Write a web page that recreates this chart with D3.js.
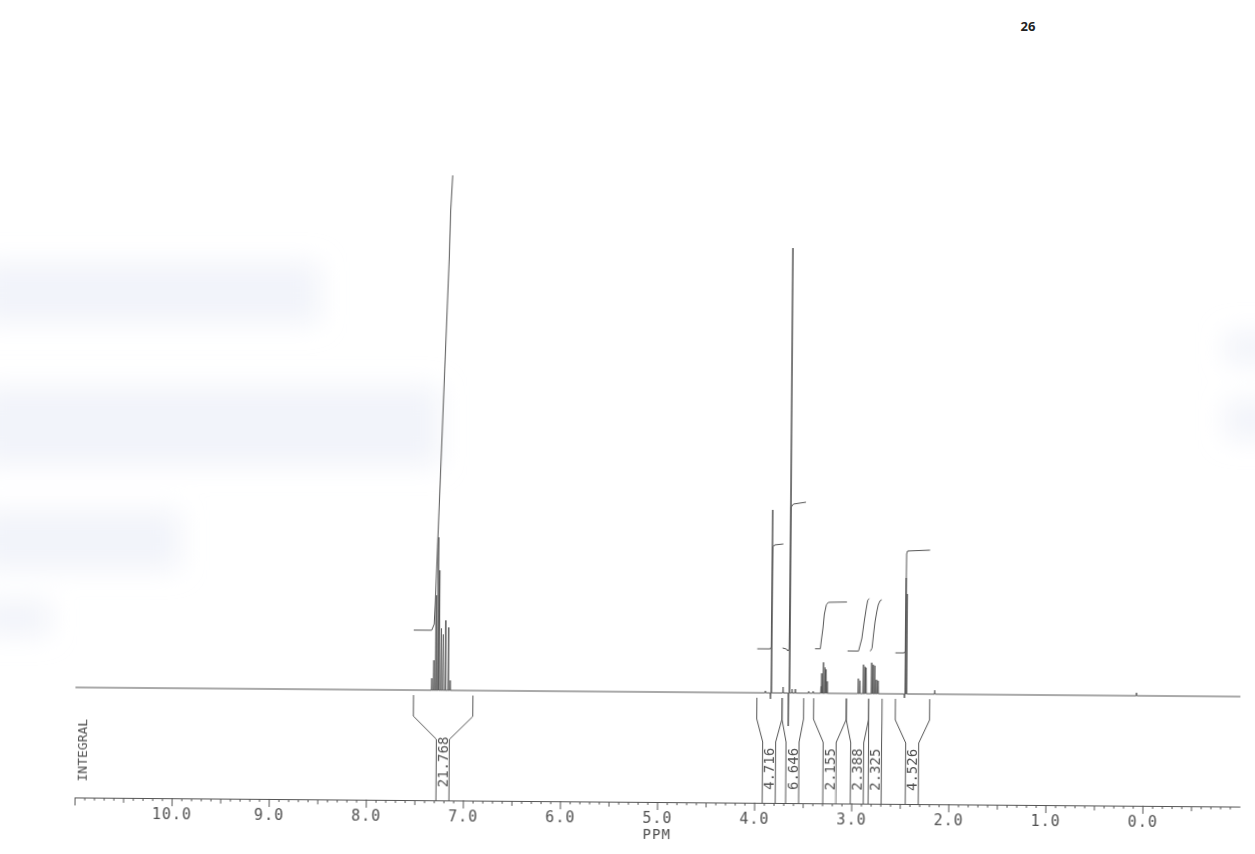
<!DOCTYPE html>
<html lang="en">
<head>
    <meta charset="UTF-8">
    <title>1H NMR spectrum</title>
    <style>
        body { margin: 0; background: #fff; }
        svg { display: block; }
        .plot text { font-family: "DejaVu Sans Mono", "Liberation Mono", monospace; fill: #505050; }
        .pageno { font-family: "Open Sans", "Noto Sans", sans-serif; font-weight: bold; font-size: 13px; fill: #222; }
    </style>
</head>
<body>
    <div id="chart"></div>
    <script src="https://d3js.org/d3.v7.min.js"></script>
    <script>
        // peak list: shift (ppm) and height above baseline (plot units)
        const peakPpm    = [7.33, 7.31, 7.29, 7.27, 7.255, 7.235, 7.215, 7.19, 7.16, 7.14,
                            3.893, 3.84, 3.832, 3.711, 3.655, 3.645, 3.618, 3.584, 3.446, 3.401,
                            3.321, 3.314, 3.297, 3.280, 3.269, 3.256,
                            2.937, 2.919, 2.885, 2.868, 2.857,
                            2.800, 2.783, 2.767, 2.749, 2.732,
                            2.46, 2.452, 2.44, 2.148, 0.07];
        const peakHeight = [12, 30, 95, 153, 120, 62, 56, 70, 63, 10,
                            2, -6, 183, 6, -33, 445, 4, 4, 2, 2,
                            7, 20, 31, 26, 24, 12,
                            15, 13, 29, 27, 26,
                            31, 29, 28, 14, 13,
                            -4, 116, 100, 4, 3];

        // integral regions (ppm from, ppm to) and printed values
        const integralFrom   = [7.517, 3.980, 3.720, 3.395, 3.058, 2.828, 2.553];
        const integralTo     = [6.905, 3.720, 3.498, 3.058, 2.828, 2.690, 2.200];
        const integralValues = ["21.768", "4.716", "6.646", "2.155", "2.388", "2.325", "4.526"];

        // integral traces as drawn by the plotter: [ppm, level]
        const intAromatic = [[7.52, 60], [7.335, 60], [7.31, 66], [7.30, 88], [7.184, 433], [7.173, 480], [7.155, 515]];
        const intOMe1     = [[3.98, 44], [3.845, 44], [3.836, 46], [3.830, 120], [3.826, 146], [3.81, 148], [3.72, 149]];
        const intOMe2     = [[3.72, 45], [3.68, 44], [3.665, 42], [3.652, 44], [3.647, 130], [3.642, 186], [3.62, 189], [3.49, 191]];
        const intCH2a     = [[3.385, 44.5], [3.331, 44.5], [3.322, 52], [3.305, 65], [3.292, 79], [3.272, 88.5], [3.251, 91], [3.06, 91.5]];
        const intCH2b     = [[3.05, 42.5], [2.937, 42.5], [2.904, 55], [2.881, 72], [2.861, 85], [2.846, 93.5], [2.829, 95]];
        const intCH2c     = [[2.816, 42.5], [2.798, 45.5], [2.784, 59], [2.769, 72], [2.752, 82], [2.737, 89], [2.719, 93], [2.702, 94]];
        const intMe       = [[2.557, 41], [2.465, 41], [2.455, 43], [2.449, 140], [2.44, 143], [2.208, 144]];
        const integralTraces = [intAromatic, intOMe1, intOMe2, intCH2a, intCH2b, intCH2c, intMe];

        const majorTicks = [11, 10, 9, 8, 7, 6, 5, 4, 3, 2, 1, 0];

        const width  = 1255, height = 854;
        const x = d3.scaleLinear().domain([11, -1]).range([75, 1240]);
        const y = d3.scaleLinear().domain([0, 520]).range([692, 172]);
        const axisY = 802, brTop = 697, brMid = 718, brLow = 741, half = 6.5;

        const svg = d3.select("#chart").append("svg").attr("width", width).attr("height", height);

        // pale scanner smudges at the page edges
        const defs = svg.append("defs");
        defs.append("filter").attr("id", "blur").attr("x", "-20%").attr("y", "-50%").attr("width", "140%").attr("height", "200%")
            .append("feGaussianBlur").attr("stdDeviation", 13);
        const smudges = [[-20, 262, 340, 62], [-20, 386, 460, 80], [-20, 510, 200, 60], [-20, 600, 70, 36], [1225, 332, 50, 32], [1225, 400, 50, 40]];
        svg.append("g").attr("filter", "url(#blur)")
            .selectAll("rect").data(smudges).enter().append("rect")
            .attr("x", d => d[0]).attr("y", d => d[1]).attr("width", d => d[2]).attr("height", d => d[3])
            .attr("fill", "#e9edf7").attr("opacity", 0.6);

        svg.append("text").attr("class", "pageno").attr("x", 1028).attr("y", 31).attr("text-anchor", "middle").text("26");

        // the scan is slightly tilted
        const g = svg.append("g").attr("class", "plot").attr("transform", "rotate(0.45, 657, 745)");

        // spectrum trace: baseline with each peak as a narrow spike
        const w = 0.003;
        const order = d3.range(peakPpm.length).sort((a, b) => peakPpm[b] - peakPpm[a]);
        const trace = [[11, 0]];
        order.forEach(i => { trace.push([peakPpm[i] + w, 0], [peakPpm[i], peakHeight[i]], [peakPpm[i] - w, 0]); });
        trace.push([-1, 0]);
        const line = d3.line().x(d => x(d[0])).y(d => y(d[1]));
        g.append("path").attr("d", line(trace)).attr("fill", "none").attr("stroke", "#555").attr("stroke-width", 1);

        // integral curves
        g.selectAll("path.int").data(integralTraces).enter().append("path").attr("class", "int")
            .attr("d", line).attr("fill", "none").attr("stroke", "#555").attr("stroke-width", 1);

        // integral brackets with values
        const br = g.selectAll("g.br").data(integralValues).enter().append("g").attr("class", "br");
        br.append("path")
            .attr("d", (d, i) => {
                const xl = x(integralFrom[i]), xr = x(integralTo[i]), xc = (xl + xr) / 2;
                return `M${xl},${brTop}V${brMid}L${xc - half},${brLow}V${axisY}` +
                       `M${xr},${brTop}V${brMid}L${xc + half},${brLow}V${axisY}`;
            })
            .attr("fill", "none").attr("stroke", "#555").attr("stroke-width", 1);
        br.append("text")
            .attr("transform", (d, i) => `translate(${(x(integralFrom[i]) + x(integralTo[i])) / 2 + 5},789) rotate(-90)`)
            .attr("font-size", 14).text(d => d);

        g.append("text").attr("transform", "translate(87,786) rotate(-90)").attr("font-size", 13).text("INTEGRAL");

        // ppm axis
        const minor = d3.range(-9, 110).map(d => d / 10).filter(d => d % 1 !== 0);
        const axisG = g.append("g").attr("transform", `translate(0,${axisY})`);
        axisG.call(d3.axisBottom(x).tickValues(minor.filter(d => Math.abs(d % 1) !== 0.5)).tickSize(3).tickSizeOuter(0).tickFormat(""));
        axisG.append("g").call(d3.axisBottom(x).tickValues(minor.filter(d => Math.abs(d % 1) === 0.5)).tickSize(5).tickSizeOuter(0).tickFormat(""));
        axisG.append("g").call(d3.axisBottom(x).tickValues(majorTicks).tickSize(8).tickSizeOuter(0)
            .tickFormat(d => d === 11 ? "" : d3.format(".1f")(d)));
        axisG.selectAll("path.domain").attr("stroke", "#555");
        axisG.selectAll(".tick line").attr("stroke", "#555");
        axisG.selectAll(".tick text").attr("font-family", null).attr("font-size", 15).attr("letter-spacing", 1).attr("y", 10).attr("dy", "0.71em").attr("fill", "#505050");
        g.append("text").attr("x", x(5)).attr("y", 839).attr("text-anchor", "middle").attr("font-size", 14).attr("letter-spacing", 1).text("PPM");
    </script>
</body>
</html>
